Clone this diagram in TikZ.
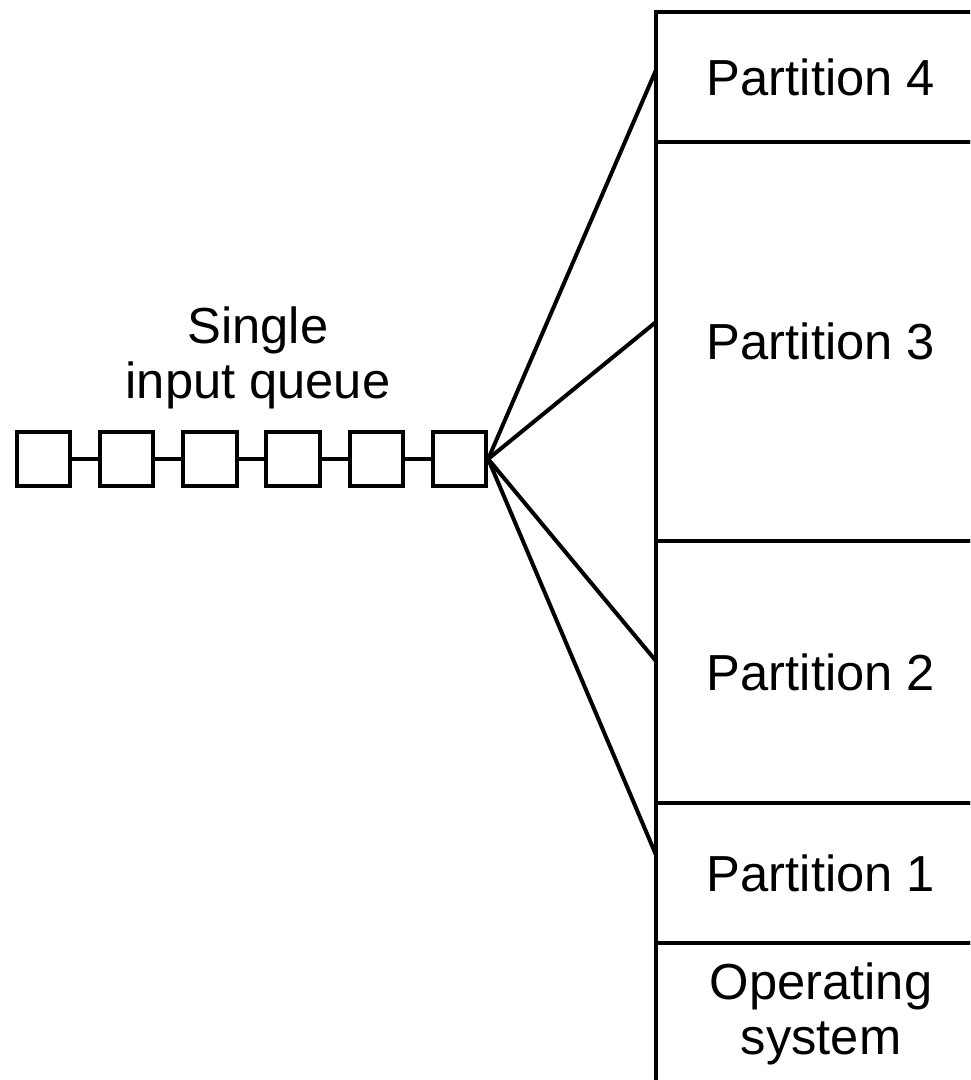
\documentclass[tikz,border=0pt]{standalone}
\usepackage{fontspec}
\setmainfont{Liberation Sans}
\usetikzlibrary{positioning}
\begin{document}
\begin{tikzpicture}[x=0.75pt, y=-0.75pt, line width=3pt,
    every node/.style={font=\fontsize{38}{41}\selectfont},
    qbox/.style={draw, minimum size=40pt, inner sep=0pt},
    part/.style={draw, outer sep=0pt, minimum width=247.5pt, align=center}]
    \useasboundingbox (0,0) rectangle (970,1080);
    \clip (0,0) rectangle (970,1080);
    % memory
    \node[part, minimum height=97.5pt, anchor=north west] (part4) at (656,12) {Partition 4};
    \node[part, minimum height=299.25pt, below=0pt of part4] (part3) {Partition 3};
    \node[part, minimum height=196.5pt, below=0pt of part3] (part2) {Partition 2};
    \node[part, minimum height=105pt, below=0pt of part2] (part1) {Partition 1};
    \node[part, minimum height=106pt, below=0pt of part1] (os) {Operating\\system};
    % queue
    \foreach \i in {1,...,6}
        \node[qbox] (q\i) at ({43.5+83.2*(\i-1)}, 459) {};
    \foreach \i/\j in {1/2, 2/3, 3/4, 4/5, 5/6}
        \draw (q\i.east) -- (q\j.west);
    \node[align=center] (qlabel) at (258,358) {Single\\input queue};
    \coordinate (e4) at (656,70);
    \coordinate (e3) at (656,322);
    \coordinate (e2) at (656,661);
    \coordinate (e1) at (656,855);
    \foreach \k in {1,...,4}
        \draw (q6.east) -- (e\k);
\end{tikzpicture}
\end{document}
